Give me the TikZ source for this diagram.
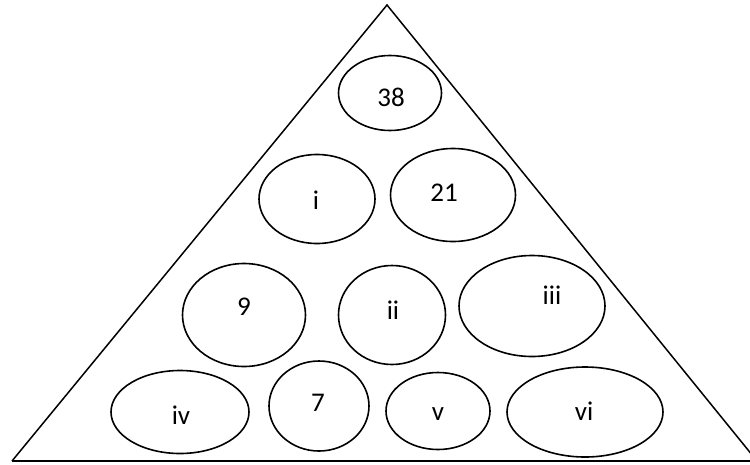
\documentclass[tikz,border=0pt]{standalone}
\usepackage{fontspec}
\setmainfont{Carlito}
\usetikzlibrary{shapes.geometric}
\begin{document}
\begin{tikzpicture}[x=1pt, y=-1pt,
  ring/.style={ellipse, draw, line width=1.6pt, inner sep=0pt},
  num/.style={inner sep=0pt, font=\fontsize{27}{32}\selectfont}]
  \useasboundingbox (0,0) rectangle (750,464);
  \begin{scope}
    \clip (0,0) rectangle (750,464);
    % outer triangle
    \coordinate (apex) at (387,5);
    \coordinate (bl) at (12,461);
    \coordinate (br) at (757,461);
    \draw[line width=1.5pt, line join=miter] (bl) -- (apex) -- (br);
    \draw[line width=1.5pt] (bl) -- (br);
  \end{scope}
  % row 1
  \node[ring, minimum width=103pt, minimum height=75pt] (e38) at (390,93) {};
  \node[num] (t38) at (391,97) {38};
  % row 2
  \node[ring, minimum width=116pt, minimum height=89pt] (ei) at (317,199) {};
  \node[num] (ti) at (316,200) {i};
  \node[ring, minimum width=125pt, minimum height=93pt] (e21) at (453,195) {};
  \node[num] (t21) at (444,193) {21};
  % row 3
  \node[ring, minimum width=123pt, minimum height=103pt] (e9) at (244,315) {};
  \node[num] (t9) at (244,307) {9};
  \node[ring, minimum width=107pt, minimum height=99pt] (eii) at (392,315) {};
  \node[num] (tii) at (393,310) {ii};
  \node[ring, minimum width=146pt, minimum height=101pt] (eiii) at (532,306) {};
  \node[num] (tiii) at (552,295) {iii};
  % row 4
  \node[ring, minimum width=138pt, minimum height=83pt] (eiv) at (180,412) {};
  \node[num] (tiv) at (181,415) {iv};
  \node[ring, minimum width=100pt, minimum height=90pt] (e7) at (319,406) {};
  \node[num] (t7) at (318,403) {7};
  \node[ring, minimum width=104pt, minimum height=77pt] (ev) at (438,411) {};
  \node[num] (tv) at (438,414) {v};
  \node[ring, minimum width=156pt, minimum height=90pt] (evi) at (585,412) {};
  \node[num] (tvi) at (584,411) {vi};
\end{tikzpicture}
\end{document}
